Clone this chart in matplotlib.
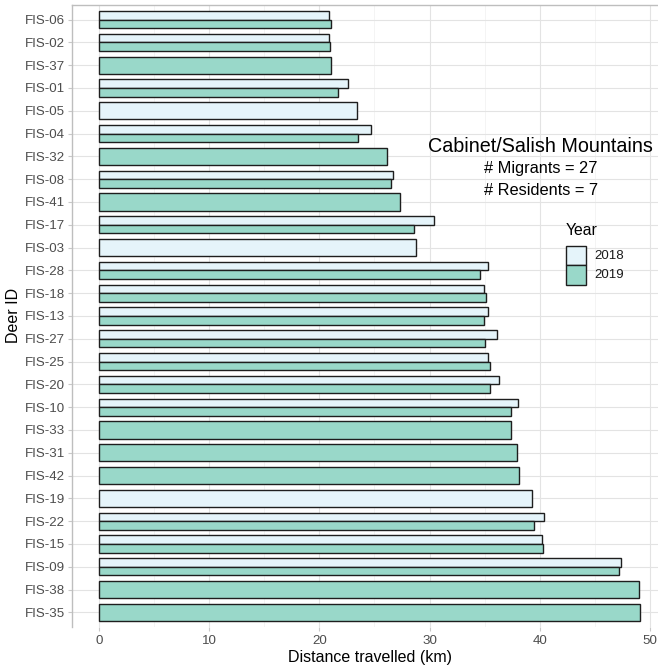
import matplotlib
matplotlib.use("Agg")
import matplotlib.pyplot as plt
from matplotlib.patches import Rectangle
import numpy as np

plt.rcParams['font.family'] = ['Liberation Sans', 'DejaVu Sans']

deer_ids = ["FIS-06", "FIS-02", "FIS-37", "FIS-01", "FIS-05", "FIS-04", "FIS-32",
            "FIS-08", "FIS-41", "FIS-17", "FIS-03", "FIS-28", "FIS-18", "FIS-13",
            "FIS-27", "FIS-25", "FIS-20", "FIS-10", "FIS-33", "FIS-31", "FIS-42",
            "FIS-19", "FIS-22", "FIS-15", "FIS-09", "FIS-38", "FIS-35"]
dist_2018 = [20.9, 20.9, None, 22.6, 23.4, 24.7, None, 26.7, None, 30.4, 28.8, 35.3,
             34.9, 35.3, 36.1, 35.3, 36.3, 38.0, None, None, None, 39.3, 40.4, 40.2,
             47.4, None, None]
dist_2019 = [21.1, 21.0, 21.1, 21.7, None, 23.5, 26.1, 26.5, 27.3, 28.6, None, 34.6,
             35.1, 34.9, 35.0, 35.5, 35.5, 37.4, 37.4, 37.9, 38.1, None, 39.5, 40.3,
             47.2, 49.0, 49.1]
years = ["2018", "2019"]
fills = {"2018": "#E5F4FA", "2019": "#99D8C9"}
edge = "#1E1E1E"

fig = plt.figure(figsize=(6.58, 6.65), dpi=100)
W, H = 658, 665
left, right, top, bottom = 72.3, 667, 5, 626.5
ax = fig.add_axes([left / W, 1 - bottom / H, (right - left) / W, (bottom - top) / H])

n = len(deer_ids)
ypos = np.arange(n)[::-1]
width = 0.75
for i, y in enumerate(ypos):
    a, b = dist_2018[i], dist_2019[i]
    if a is not None and b is not None:
        ax.barh(y + width / 4, a, height=width / 2, color=fills["2018"], edgecolor=edge, linewidth=1.0, zorder=3)
        ax.barh(y - width / 4, b, height=width / 2, color=fills["2019"], edgecolor=edge, linewidth=1.0, zorder=3)
    elif a is not None:
        ax.barh(y, a, height=width, color=fills["2018"], edgecolor=edge, linewidth=1.0, zorder=3)
    else:
        ax.barh(y, b, height=width, color=fills["2019"], edgecolor=edge, linewidth=1.0, zorder=3)

ax.set_xlim(-2.42, 51.55)
ax.set_ylim(-0.62, n - 1 + 0.64)
ax.set_yticks(ypos)
ax.set_yticklabels(deer_ids)
ax.set_xticks([0, 10, 20, 30, 40, 50])
ax.set_xticks([5, 15, 25, 35, 45], minor=True)
ax.tick_params(axis='both', which='major', labelsize=9.6, labelcolor='#4D4D4D',
               color='#C8C8C8', length=3, width=0.8, pad=2)
ax.tick_params(axis='x', which='minor', length=0)
ax.tick_params(axis='x', which='major', pad=3)

ax.grid(True, which='major', color='#E3E3E3', linewidth=0.8, zorder=0)
ax.grid(True, which='minor', axis='x', color='#F2F2F2', linewidth=0.6, zorder=0)
ax.set_axisbelow(True)

for s in ['right', 'bottom']:
    ax.spines[s].set_visible(False)
for s in ['top', 'left']:
    ax.spines[s].set_color('#BEBEBE')
    ax.spines[s].set_linewidth(1.0)

ax.set_xlabel("Distance travelled (km)", fontsize=11.5, color='black', labelpad=2)
ax.set_ylabel("Deer ID", fontsize=11.5, color='black', labelpad=3)

ax.text(40.1, 20.45, "Cabinet/Salish Mountains", fontsize=14.2, ha='center', va='center', color='black')
ax.text(40.1, 19.45, "# Migrants = 27", fontsize=11.8, ha='center', va='center', color='black')
ax.text(40.1, 18.5, "# Residents = 7", fontsize=11.8, ha='center', va='center', color='black')

# legend drawn in figure pixel coordinates
def fx(px):
    return px / W

def fy(py):
    return 1 - py / H

fig.text(fx(565.5), fy(230.5), "Year", fontsize=11.3, ha='left', va='center', color='black')
key_tops = [245.7, 265.2]
for yr, kt in zip(years, key_tops):
    fig.patches.append(Rectangle((fx(565.7), fy(kt + 19.5)), 20 / W, 19.5 / H,
                                 transform=fig.transFigure, facecolor=fills[yr],
                                 edgecolor=edge, linewidth=1.0, figure=fig))
    fig.text(fx(594), fy(kt + 10.2), yr, fontsize=9.5, ha='left', va='center', color='#1A1A1A')

fig.savefig("out.png", dpi=100)
